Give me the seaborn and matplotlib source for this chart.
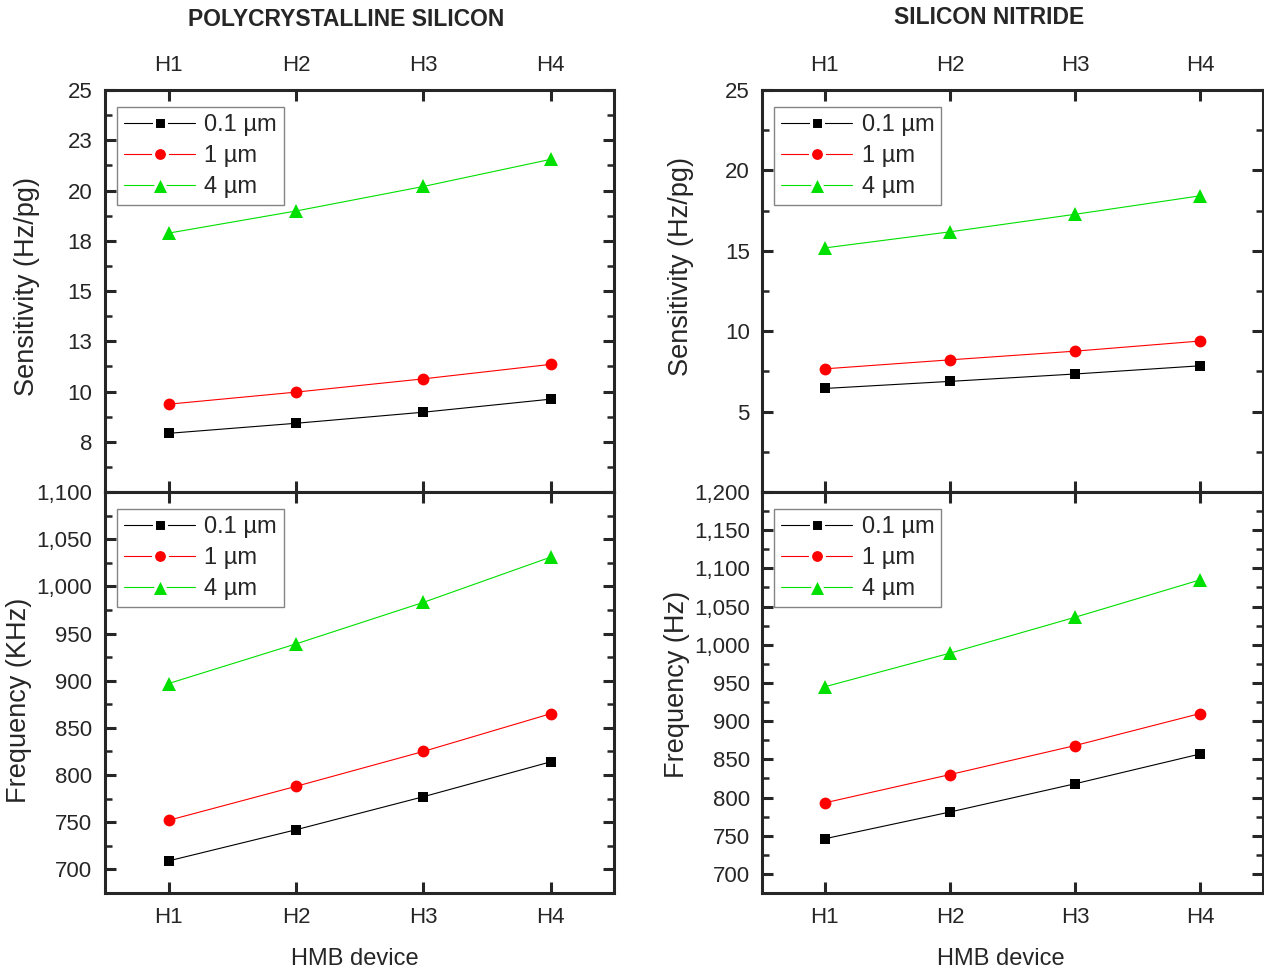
import numpy as np
import pandas as pd
import seaborn as sns
import matplotlib.pyplot as plt
from matplotlib.ticker import MultipleLocator, StrMethodFormatter

# Datos
devices = ["H1", "H2", "H3", "H4"]
thickness = ["0.1 µm", "1 µm", "4 µm"]

poly_sens_01 = [7.92, 8.42, 8.97, 9.62]
poly_sens_1 = [9.37, 9.97, 10.63, 11.35]
poly_sens_4 = [17.88, 18.98, 20.2, 21.55]

poly_freq_01 = [709, 742, 777, 814]
poly_freq_1 = [752, 788, 825, 865]
poly_freq_4 = [897, 939, 983, 1031]

nitr_sens_01 = [6.44, 6.88, 7.34, 7.85]
nitr_sens_1 = [7.66, 8.22, 8.76, 9.39]
nitr_sens_4 = [15.18, 16.18, 17.27, 18.42]

nitr_freq_01 = [746, 781, 818, 857]
nitr_freq_1 = [793, 830, 868, 910]
nitr_freq_4 = [945, 989, 1036, 1085]

poly_sens_ticks = [7.5, 10, 12.5, 15, 17.5, 20, 22.5, 25]
poly_sens_labels = ["8", "10", "13", "15", "18", "20", "23", "25"]


def make_df(s01, s1, s4):
    rows = []
    for name, vals in zip(thickness, [s01, s1, s4]):
        for i, v in enumerate(vals):
            rows.append({"pos": i + 1, "val": v, "thick": name})
    return pd.DataFrame(rows)


sns.set_style("ticks")
plt.rcParams["font.family"] = ["Liberation Sans", "DejaVu Sans"]
plt.rcParams["axes.linewidth"] = 2.2

palette = {"0.1 µm": "#000000", "1 µm": "#ff0000", "4 µm": "#00e000"}
markers = {"0.1 µm": "s", "1 µm": "o", "4 µm": "^"}
msizes = {"0.1 µm": 7.5, "1 µm": 8.5, "4 µm": 9.5}
# en la leyenda: tamaño extra para compensar el borde blanco
leg_sizes = {"0.1 µm": 8.5, "1 µm": 10, "4 µm": 13}

fig = plt.figure(figsize=(12.64, 9.72), dpi=100)

panels = [
    # (rect, df, ylim, ylabel, top?, ylabel coords)
    ([0.083, 0.4938, 0.403, 0.4136], make_df(poly_sens_01, poly_sens_1, poly_sens_4),
     (5, 25), "Sensitivity (Hz/pg)", True, (-0.128, 0.51)),
    ([0.083, 0.0813, 0.403, 0.4125], make_df(poly_freq_01, poly_freq_1, poly_freq_4),
     (675, 1100), "Frequency (KHz)", False, (-0.143, 0.48)),
    ([0.603, 0.4938, 0.396, 0.4136], make_df(nitr_sens_01, nitr_sens_1, nitr_sens_4),
     (0, 25), "Sensitivity (Hz/pg)", True, (-0.136, 0.56)),
    ([0.603, 0.0813, 0.396, 0.4125], make_df(nitr_freq_01, nitr_freq_1, nitr_freq_4),
     (675, 1200), "Frequency (Hz)", False, (-0.144, 0.52)),
]

for k, (rect, df, ylim, ylabel, is_top, lcoords) in enumerate(panels):
    ax = fig.add_axes(rect)
    for name in thickness:
        sub = df[df["thick"] == name]
        sns.lineplot(data=sub, x="pos", y="val", ax=ax, color=palette[name],
                     marker=markers[name], markersize=msizes[name],
                     markeredgewidth=0, linewidth=0.8, label=name)
    ax.set_xlim(0.5, 4.5)
    ax.set_ylim(*ylim)
    ax.set_xticks([1, 2, 3, 4])
    ax.set_xticklabels(devices)

    if k == 0:
        ax.set_yticks(poly_sens_ticks)
        ax.set_yticklabels(poly_sens_labels)
        ax.yaxis.set_minor_locator(MultipleLocator(1.25))
    elif k == 2:
        ax.set_yticks([5, 10, 15, 20, 25])
        ax.yaxis.set_minor_locator(MultipleLocator(2.5))
    else:
        ax.set_yticks(np.arange(700, ylim[1] + 1, 50))
        ax.yaxis.set_major_formatter(StrMethodFormatter("{x:,.0f}"))
        ax.yaxis.set_minor_locator(MultipleLocator(25))

    ax.tick_params(which="both", direction="in", top=True, right=True,
                   labelsize=16, pad=9)
    ax.tick_params(which="major", length=8, width=2.2)
    ax.tick_params(which="minor", length=5, width=1.8)
    ax.tick_params(axis="x", which="minor", top=False, bottom=False)
    if is_top:
        ax.tick_params(axis="x", labeltop=True, labelbottom=False, pad=10)
        ax.set_xlabel("")
    else:
        ax.tick_params(axis="x", labeltop=False, labelbottom=True, pad=10)
        ax.set_xlabel("HMB device", fontsize=17)
        ax.xaxis.set_label_coords(0.49 if k == 1 else 0.476, -0.138)

    ax.set_ylabel(ylabel, fontsize=19.5)
    ax.yaxis.set_label_coords(*lcoords)

    leg = ax.legend(loc="upper left", bbox_to_anchor=(0.024, 0.958),
                    fontsize=17, frameon=True, fancybox=False,
                    handlelength=3.0, handletextpad=0.4, borderpad=0.3,
                    labelspacing=0.38, borderaxespad=0)
    leg.get_frame().set_edgecolor("#666666")
    leg.get_frame().set_linewidth(1.0)
    # hueco blanco alrededor del marcador, como en Origin
    for h, name in zip(leg.legend_handles, thickness):
        h.set_markersize(leg_sizes[name])
        h.set_markeredgecolor("white")
        h.set_markeredgewidth(2.2)
        h.set_markeredgewidth(2.2)

fig.text(346 / 1264, 1 - 20 / 972, "POLYCRYSTALLINE SILICON", ha="center",
         va="center", fontsize=16.5, fontweight="bold")
fig.text(989 / 1264, 1 - 17 / 972, "SILICON NITRIDE", ha="center",
         va="center", fontsize=16.5, fontweight="bold")

plt.savefig("out.png", dpi=100)
